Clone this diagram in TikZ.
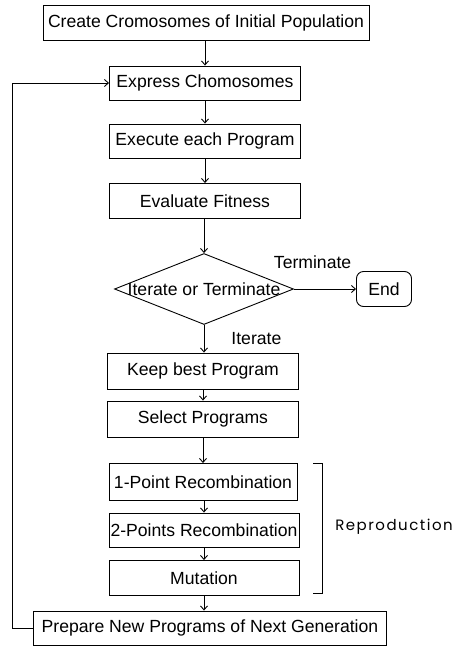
\documentclass[tikz,border=0pt]{standalone}
\usepackage{fontspec}
\setmainfont{Liberation Sans}
\newfontfamily\reprofont[LetterSpace=10]{Poppins}
\usepackage{tikz}
\usetikzlibrary{arrows.meta,shapes.geometric}

\begin{document}
\begin{tikzpicture}[x=1pt,y=-1pt,line width=0.9pt,
    font=\fontsize{17.6}{20}\selectfont,
    stepbox/.style={draw,rectangle,inner sep=0pt,minimum height=35pt},
    arr/.style={-{Straight Barb[length=4pt,width=7pt]}},
    lbl/.style={inner sep=0pt}]
            \useasboundingbox (0,0) rectangle (467,646);
            \node [stepbox,minimum width=326pt] (create) at (206,23) {Create Cromosomes of Initial Population};
            \node [stepbox,minimum width=191pt,minimum height=34pt] (express) at (205,83) {Express Chomosomes};
            \node [stepbox,minimum width=191pt,minimum height=34pt] (execute) at (205,141) {Execute each Program};
            \node [stepbox,minimum width=191pt] (fitness) at (205,201) {Evaluate Fitness};
            \node [draw,diamond,aspect=2.5,inner sep=0pt,minimum width=179pt,minimum height=71pt,label=center:{Iterate or Terminate}] (decide) at (204,289) {};
            \node [draw,rounded corners=7pt,minimum width=55pt,minimum height=35pt,inner sep=0pt] (end) at (384,289) {End};
            \node [stepbox,minimum width=191pt,minimum height=36pt] (keep) at (203,371) {Keep best Program};
            \node [stepbox,minimum width=191pt,minimum height=36pt] (select) at (203,419) {Select Programs};
            \node [stepbox,minimum width=188pt,minimum height=37pt] (onept) at (203,482) {1-Point Recombination};
            \node [stepbox,minimum width=190pt,minimum height=34pt] (twopt) at (204,530) {2-Points Recombination};
            \node [stepbox,minimum width=190pt] (mutate) at (204,578) {Mutation};
            \node [stepbox,minimum width=353pt,minimum height=34pt] (prepare) at (210,628) {Prepare New Programs of Next Generation};
            \node [lbl,font=\reprofont\fontsize{15}{18}\selectfont] (repro) at (394,527) {Reproduction};

            \draw[arr] (create.south -| express) -- (express);
            \draw[arr] (express) -- (execute);
            \draw[arr] (execute) -- (fitness);
            \draw[arr] (fitness.south -| decide) -- (decide);
            \draw[arr] (decide) -- node[lbl,above=20pt,pos=0.3] {Terminate} (end);
            \draw[arr] (decide) -- node[lbl,right=27pt] {Iterate} (decide |- keep.north);
            \draw[arr] (keep) -- (select);
            \draw[arr] (select) -- (onept);
            \draw[arr] (onept.south -| twopt) -- (twopt);
            \draw[arr] (twopt) -- (mutate);
            \draw[arr] (mutate) -- (mutate |- prepare.north);
            \draw[arr] (prepare.west) -- ++(-21,0) |- (express.west);

            % bracket round the reproduction steps
            \draw (onept.north east) ++(16,0) -- ++(9,0) -- ++(0,130) -- ++(-9,0);
\end{tikzpicture}
\end{document}
